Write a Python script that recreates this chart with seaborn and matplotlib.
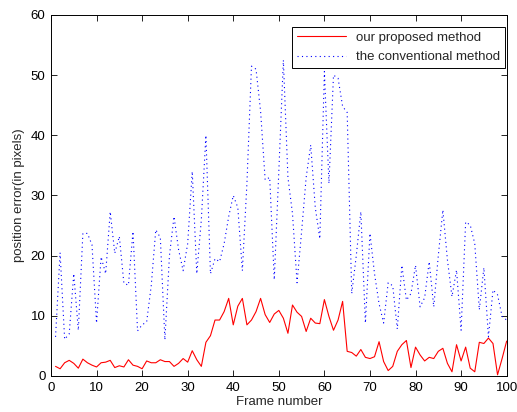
import numpy as np
import pandas as pd
import matplotlib
matplotlib.use("Agg")
import matplotlib.pyplot as plt
import seaborn as sns

frames = list(range(1, 101))

proposed = [1.6, 1.2, 2.2, 2.6, 2.1, 1.3, 2.8, 2.2, 1.8, 1.5,
            2.2, 2.3, 2.6, 1.4, 1.7, 1.5, 2.7, 1.8, 1.6, 1.2,
            2.5, 2.2, 2.2, 2.7, 2.4, 2.4, 1.6, 2.1, 2.9, 2.3,
            4.2, 2.7, 1.6, 5.6, 6.7, 9.3, 9.3, 10.7, 12.9, 8.5,
            11.6, 12.9, 8.5, 9.3, 10.7, 12.9, 10.2, 8.9, 10.3, 10.9,
            9.6, 7.1, 11.8, 10.6, 9.9, 7.4, 9.6, 8.8, 8.7, 12.7,
            9.9, 7.6, 9.3, 12.4, 4.1, 3.9, 3.3, 4.4, 3.1, 2.9,
            3.2, 5.7, 2.4, 0.9, 1.6, 4.1, 5.2, 5.9, 1.4, 4.8,
            3.5, 2.5, 3.1, 2.9, 4.1, 4.6, 2.1, 0.7, 5.2, 2.5,
            4.8, 1.3, 0.7, 5.6, 5.4, 6.3, 5.4, 0.2, 2.9, 5.8]

conventional = [6.5, 20.5, 6.1, 7.0, 17.0, 7.6, 23.7, 23.7, 21.8, 8.8,
                19.8, 17.0, 27.3, 20.4, 23.2, 15.4, 15.1, 24.0, 7.5, 8.5,
                9.0, 15.0, 24.3, 23.0, 6.0, 20.0, 26.5, 21.0, 17.5, 22.0,
                34.0, 17.0, 26.0, 40.0, 17.0, 19.5, 19.0, 22.0, 26.5, 30.0,
                28.0, 17.5, 32.0, 51.5, 51.0, 44.0, 32.6, 33.0, 16.0, 34.0,
                52.5, 33.0, 27.0, 15.5, 24.0, 33.0, 38.4, 28.0, 22.8, 50.6,
                32.0, 50.0, 49.5, 44.8, 43.8, 13.7, 20.0, 27.3, 8.8, 23.7,
                17.0, 12.0, 8.8, 15.5, 15.0, 7.8, 18.4, 12.6, 13.7, 18.4,
                11.5, 13.0, 19.0, 11.5, 20.0, 27.6, 19.3, 13.2, 17.6, 7.6,
                25.6, 25.1, 22.0, 11.0, 18.0, 6.5, 14.3, 13.5, 9.9, 9.3]

label_a = "our proposed method"
label_b = "the conventional method"

df = pd.DataFrame({
    "frame": frames * 2,
    "error": proposed + conventional,
    "method": [label_a] * len(frames) + [label_b] * len(frames),
})

sns.set_style("white")
plt.rcParams["font.family"] = ["Liberation Sans", "DejaVu Sans"]
plt.rcParams["xtick.direction"] = "in"
plt.rcParams["ytick.direction"] = "in"

fig = plt.figure(figsize=(5.17, 4.12), dpi=100)
ax = fig.add_axes([0.0986, 0.0874, 0.8814, 0.8762])

sns.lineplot(data=df, x="frame", y="error", hue="method", style="method",
             palette={label_a: "#ff0000", label_b: "#0000ff"},
             dashes={label_a: "", label_b: (1, 3)},
             linewidth=0.8, ax=ax, legend=True)

ax.set_xlim(0, 100)
ax.set_ylim(0, 60)
ax.set_xticks(range(0, 101, 10))
ax.set_yticks(range(0, 61, 10))
ax.tick_params(axis="both", which="both", direction="in", length=4, width=0.6,
               labelsize=9.5, top=True, right=True, bottom=True, left=True,
               colors="black", pad=4)
for s in ax.spines.values():
    s.set_visible(True)
    s.set_color("black")
    s.set_linewidth(0.7)

ax.set_xlabel("Frame number", fontsize=9.5, labelpad=2)
ax.set_ylabel("position error(in pixels)", fontsize=9.5, labelpad=4)

leg = ax.legend(loc="upper right", bbox_to_anchor=(0.996, 0.967),
                fontsize=9.5, frameon=True, fancybox=False,
                edgecolor="black", framealpha=1, borderpad=0.35,
                handlelength=3.7, handletextpad=0.8, labelspacing=0.55,
                borderaxespad=0.0)
leg.get_frame().set_linewidth(0.7)

fig.savefig("out.png", dpi=100, facecolor="white")
